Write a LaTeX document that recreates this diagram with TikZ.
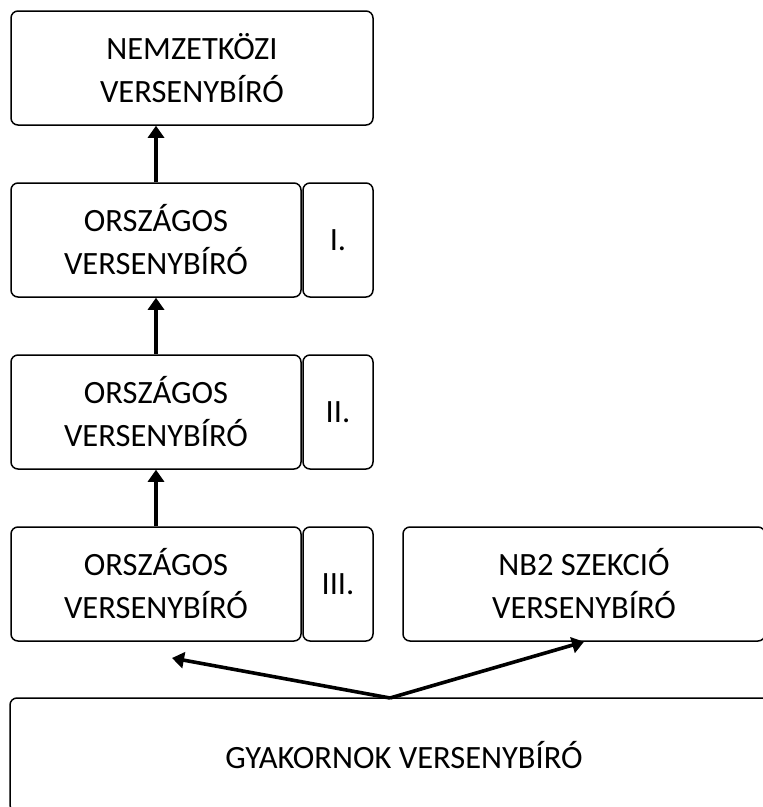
\documentclass[tikz,border=0pt]{standalone}
\usepackage{fontspec}
\setmainfont{Carlito}
\usetikzlibrary{arrows.meta}
\begin{document}
\begin{tikzpicture}[x=1pt,y=-1pt]
	\tikzstyle{every node}=[font=\fontsize{32.5}{43}\selectfont, align=center]
	\tikzstyle{rang}=[draw, rounded corners=7pt, line width=1.5pt, minimum height=114pt, inner sep=0pt]
	\tikzstyle{lepes}=[line width=3.6pt, -{Triangle[length=12pt,width=16pt]}]
	\useasboundingbox (0,0) rectangle (763,807);
	\clip (0,0) rectangle (763,807);
	
	% nemzetkozi szint
	\node[rang, minimum width=362pt] (nemz) at (192,68) {NEMZETKÖZI\\VERSENYBÍRÓ};
	
	% orszagos szintek I.-III.
	\foreach \i/\fok in {1/I., 2/II., 3/III.} {
		\node[rang, minimum width=290pt] (orsz\i) at (156, 68 + 172*\i) {ORSZÁGOS\\VERSENYBÍRÓ};
		\node[rang, minimum width=70pt] (fok\i) at (338, 68 + 172*\i) {\fok};
	}
	
	% NB2 es gyakornok
	\node[rang, minimum width=362pt] (nb2) at (584,584) {NB2 SZEKCIÓ\\VERSENYBÍRÓ};
	\node[rang, minimum width=788pt] (gyak) at (404,755) {GYAKORNOK VERSENYBÍRÓ};
	
	% elorelepes
	\draw[lepes] (orsz1.north) -- (orsz1.north |- nemz.south);
	\draw[lepes] (orsz2.north) -- (orsz1.south);
	\draw[lepes] (orsz3.north) -- (orsz2.south);
	
	\coordinate (elag) at (390,698);
	\coordinate (cel) at (172,658);
	\draw[lepes] (elag) -- (cel);
	\draw[lepes] (elag) -- (nb2.south);
	
\end{tikzpicture}
\end{document}
